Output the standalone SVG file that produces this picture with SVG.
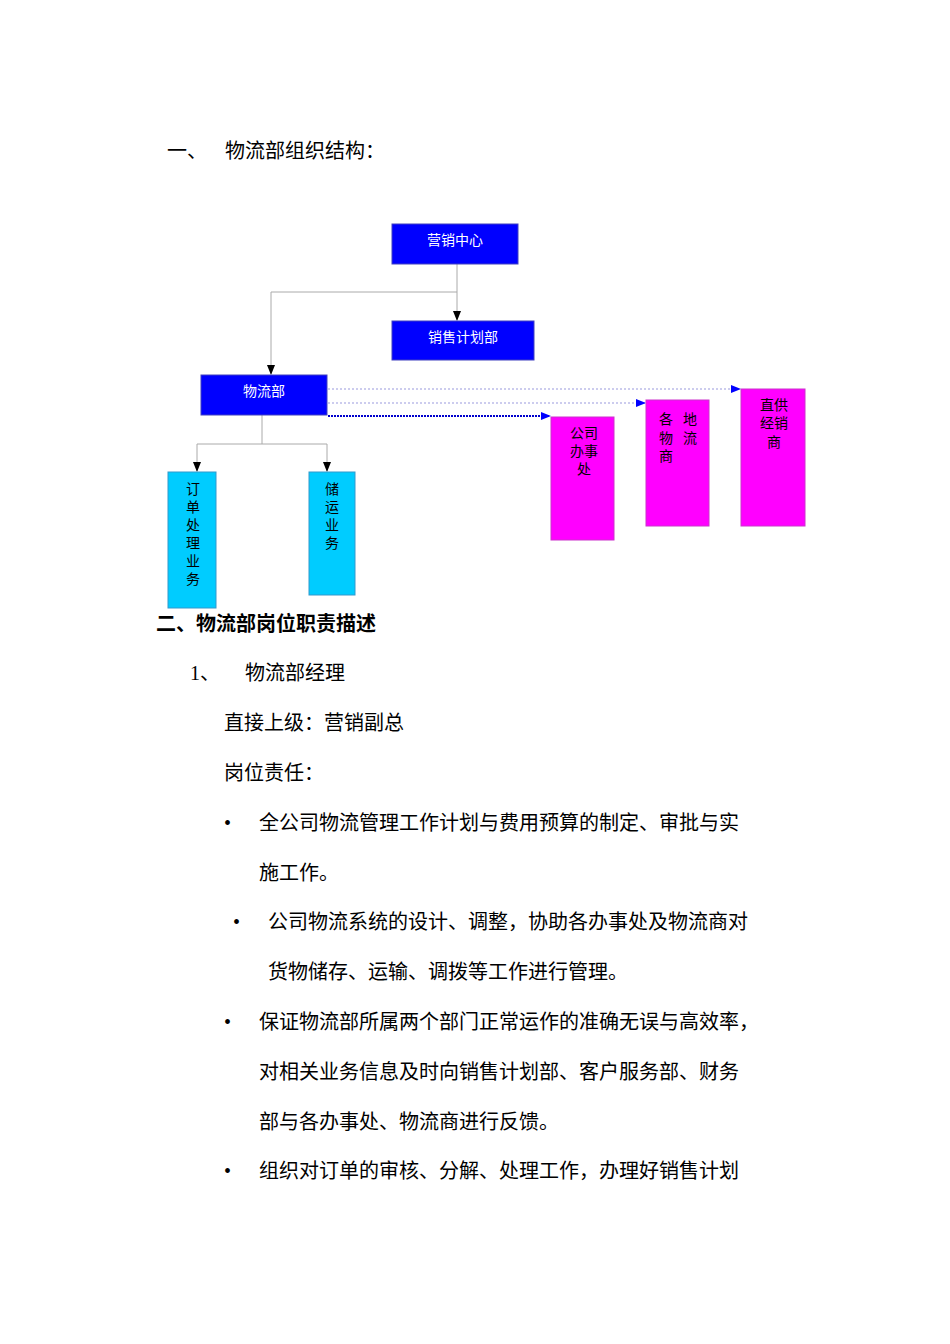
<svg xmlns="http://www.w3.org/2000/svg" width="950" height="1344" viewBox="0 0 950 1344">
<style>
.t{font-family:"Liberation Serif","Noto Sans CJK SC",serif;font-size:20px;fill:#000}
.b{font-weight:bold}
.n{font-family:"Noto Sans CJK SC",sans-serif;font-size:14px;fill:#fff}
.m{font-family:"Noto Sans CJK SC",sans-serif;font-size:14px;fill:#000}
.blue{fill:#0000ff;stroke:#4040c0;stroke-width:1}
.cyan{fill:#00ccff;stroke:#3399cc;stroke-width:1}
.mag{fill:#ff00ff;stroke:#cc33cc;stroke-width:1}
.c{fill:none;stroke:#aaa;stroke-width:1}
.d{fill:none;stroke:#9999dd;stroke-width:1;stroke-dasharray:2,2}
</style>
<defs>
<marker id="a" markerWidth="10" markerHeight="10" refX="9" refY="5" orient="auto" markerUnits="userSpaceOnUse"><path d="M0,1 L10,5 L0,9z" fill="#000"/></marker>
<marker id="ab" markerWidth="10" markerHeight="10" refX="9" refY="5" orient="auto" markerUnits="userSpaceOnUse"><path d="M0,1 L10,5 L0,9z" fill="#0000ff"/></marker>
</defs>
<text class="t" x="167" y="158">一、</text><text class="t" x="225" y="158">物流部组织结构：</text>
<g id="connectors">
<path class="c" d="M457,264 V320" marker-end="url(#a)"/>
<path class="c" d="M457,292 H271 V374" marker-end="url(#a)"/>
<path class="c" d="M262,415 V444 M197,444 H327"/>
<path class="c" d="M197,444 V471" marker-end="url(#a)"/>
<path class="c" d="M327,444 V471" marker-end="url(#a)"/>
<path class="d" d="M328,389 H740" marker-end="url(#ab)"/>
<path class="d" d="M328,403 H645" marker-end="url(#ab)"/>
<path d="M328,416 H550" fill="none" stroke="#0000cc" stroke-width="2" stroke-dasharray="2,1" marker-end="url(#ab)"/>
</g>
<g id="n1"><rect class="blue" x="392" y="224" width="126" height="40"/><text class="n" x="455" y="245" text-anchor="middle">营销中心</text></g>
<g id="n2"><rect class="blue" x="392" y="321" width="142" height="39"/><text class="n" x="463" y="342" text-anchor="middle">销售计划部</text></g>
<g id="n3"><rect class="blue" x="201" y="375" width="126" height="40"/><text class="n" x="264" y="396" text-anchor="middle">物流部</text></g>
<g id="n4"><rect class="cyan" x="168" y="472" width="48" height="136"/>
<text class="m" x="193" text-anchor="middle"><tspan x="193" y="494">订</tspan><tspan x="193" y="512">单</tspan><tspan x="193" y="530">处</tspan><tspan x="193" y="548">理</tspan><tspan x="193" y="566">业</tspan><tspan x="193" y="584">务</tspan></text></g>
<g id="n5"><rect class="cyan" x="309" y="472" width="46" height="123"/>
<text class="m" text-anchor="middle"><tspan x="332" y="494">储</tspan><tspan x="332" y="512">运</tspan><tspan x="332" y="530">业</tspan><tspan x="332" y="548">务</tspan></text></g>
<g id="n6"><rect class="mag" x="551" y="417" width="63" height="123"/>
<text class="m" text-anchor="middle"><tspan x="584" y="438">公司</tspan><tspan x="584" y="456">办事</tspan><tspan x="584" y="474">处</tspan></text></g>
<g id="n7"><rect class="mag" x="646" y="400" width="63" height="126"/>
<text class="m"><tspan x="659" y="424">各</tspan><tspan x="683" y="424">地</tspan><tspan x="659" y="443">物</tspan><tspan x="683" y="443">流</tspan><tspan x="659" y="461">商</tspan></text></g>
<g id="n8"><rect class="mag" x="741" y="389" width="64" height="137"/>
<text class="m" text-anchor="middle"><tspan x="774" y="410">直供</tspan><tspan x="774" y="428">经销</tspan><tspan x="774" y="447">商</tspan></text></g>
<text class="t b" x="156" y="631">二、物流部岗位职责描述</text>
<text class="t" x="190" y="680">1、</text><text class="t" x="245" y="680">物流部经理</text>
<text class="t" x="224" y="730">直接上级：营销副总</text>
<text class="t" x="224" y="780">岗位责任：</text>
<text class="t" x="224" y="830">•</text><text class="t" x="259" y="830">全公司物流管理工作计划与费用预算的制定、审批与实</text>
<text class="t" x="259" y="880">施工作。</text>
<text class="t" x="233" y="929">•</text><text class="t" x="268" y="929">公司物流系统的设计、调整，协助各办事处及物流商对</text>
<text class="t" x="268" y="979">货物储存、运输、调拨等工作进行管理。</text>
<text class="t" x="224" y="1029">•</text><text class="t" x="259" y="1029">保证物流部所属两个部门正常运作的准确无误与高效率，</text>
<text class="t" x="259" y="1079">对相关业务信息及时向销售计划部、客户服务部、财务</text>
<text class="t" x="259" y="1129">部与各办事处、物流商进行反馈。</text>
<text class="t" x="224" y="1178">•</text><text class="t" x="259" y="1178">组织对订单的审核、分解、处理工作，办理好销售计划</text>
</svg>
